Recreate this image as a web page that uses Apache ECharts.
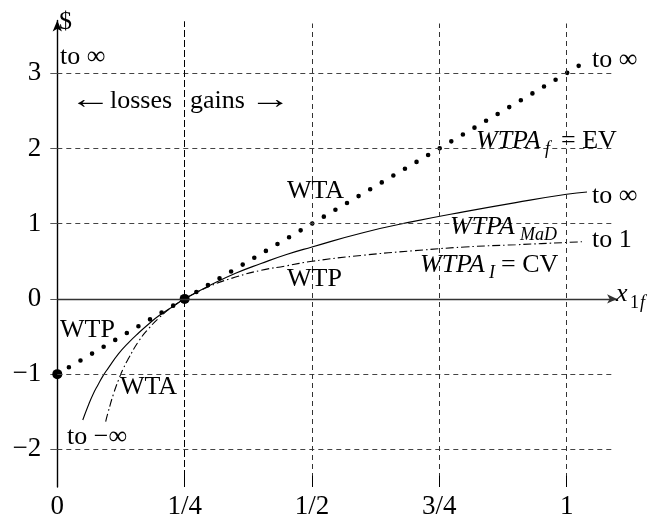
<!DOCTYPE html>
<html><head><meta charset="utf-8">
<script src="https://cdn.jsdelivr.net/npm/echarts@6/dist/echarts.min.js"></script>
<style>html,body{margin:0;padding:0;background:#fff}#c{width:661px;height:520px}</style>
</head><body><div id="c"></div>
<script>
// tick values and labels
const xTicks = [0, 0.25, 0.5, 0.75, 1];
const xTickLabels = ['0', '1/4', '1/2', '3/4', '1'];
const yTicks = [-2, -1, 0, 1, 2, 3];
const yTickLabels = ['\u22122', '\u22121', '0', '1', '2', '3'];
const yGrid = [-2, -1, 1, 2, 3];
const xGrid = [0.5, 0.75, 1];
const xDivider = [0.25];

// WTPA_f = EV (dotted straight line)
const evX = [0, 0.25, 0.5, 0.75, 1, 1.034];
const evY = [-1, 0, 1, 2, 3, 3.14];
// WTPA_MaD (solid)
const madX = [0.05, 0.06, 0.07, 0.08, 0.09, 0.1, 0.12, 0.14, 0.16, 0.18, 0.2, 0.225, 0.25, 0.3, 0.35, 0.4, 0.45, 0.5, 0.6, 0.7, 0.8, 0.9, 1.0, 1.04];
const madY = [-1.61, -1.43, -1.27, -1.14, -1.02, -0.92, -0.73, -0.58, -0.45, -0.33, -0.22, -0.11, 0, 0.18, 0.34, 0.47, 0.59, 0.69, 0.88, 1.03, 1.16, 1.28, 1.39, 1.42];
// WTPA_I = CV (dash-dot)
const cvX = [0.095, 0.1, 0.11, 0.12, 0.13, 0.14, 0.16, 0.18, 0.2, 0.225, 0.25, 0.3, 0.35, 0.4, 0.45, 0.5, 0.6, 0.7, 0.8, 0.9, 1.0, 1.03];
const cvY = [-1.63, -1.5, -1.27, -1.08, -0.92, -0.79, -0.56, -0.39, -0.25, -0.11, 0, 0.17, 0.29, 0.38, 0.44, 0.5, 0.58, 0.64, 0.69, 0.72, 0.75, 0.76];
// highlighted points
const keyX = [0, 0.25];
const keyY = [-1, 0];

const X_MIN = 0, X_MAX = 1.1, Y_MIN = -2.5, Y_MAX = 3.7;
const FONT = '"Liberation Serif", "Times New Roman", serif';
const FS = 26, SFS = 18;

const zip = (a, b) => a.map((v, i) => [v, b[i]]);

const chart = echarts.init(document.getElementById('c'), null, {renderer: 'canvas'});

const gridH = yGrid.map(v => [{coord: [X_MIN, v]}, {coord: [1.095, v]}]);
const gridV = xGrid.map(v => [{coord: [v, Y_MIN]}, {coord: [v, 3.66]}]);
const divV = xDivider.map(v => [{coord: [v, Y_MIN]}, {coord: [v, 3.69]}]);
const bottomTicks = xTicks.slice(1).map(v => [{coord: [v, Y_MIN]}, {coord: [v, Y_MIN + 0.15]}]);

function helper(data, lineStyle, symbol, symbolSize) {
  return {
    type: 'line', data: [], silent: true, z: 1,
    markLine: {
      silent: true, animation: false,
      symbol: symbol || ['none', 'none'], symbolSize: symbolSize || 8,
      label: {show: false}, lineStyle: lineStyle, data: data,
      emphasis: {disabled: true}
    }
  };
}

chart.setOption({
  animation: false,
  backgroundColor: '#fff',
  grid: {left: 57.3, right: 43.4, top: 20.5, bottom: 31.5, containLabel: false},
  xAxis: {
    type: 'value', min: X_MIN, max: X_MAX, interval: 0.25, position: 'bottom',
    axisLine: {show: false},
    axisTick: {show: false},
    splitLine: {show: false},
    axisLabel: {
      customValues: xTicks, margin: 6, color: '#000', fontFamily: FONT, fontSize: 27,
      formatter: v => { const i = xTicks.findIndex(t => Math.abs(t - v) < 1e-6); return i >= 0 ? xTickLabels[i] : ''; }
    }
  },
  yAxis: {
    type: 'value', min: Y_MIN, max: Y_MAX,
    axisLine: {show: true, onZero: false, symbol: ['none', 'arrow'], symbolSize: [7, 11],
      lineStyle: {color: '#000', width: 1.4}},
    axisTick: {show: true, customValues: yTicks, length: 7, lineStyle: {color: '#555', width: 1}},
    splitLine: {show: false},
    axisLabel: {
      customValues: yTicks, margin: 16, color: '#000', fontFamily: FONT, fontSize: 27,
      formatter: v => { const i = yTicks.findIndex(t => Math.abs(t - v) < 1e-6); return i >= 0 ? yTickLabels[i] : ''; }
    }
  },
  series: [
    helper(gridH, {color: '#444', width: 1, type: [5, 4]}),
    helper(gridV, {color: '#333', width: 1, type: [5, 4]}),
    helper(divV, {color: '#000', width: 1, type: [7, 3]}),
    helper(bottomTicks, {color: '#000', width: 1, type: 'solid'}),
    helper([[{coord: [X_MIN, 0]}, {coord: [1.099, 0]}]], {color: '#333', width: 1.3, type: 'solid'}, ['none', 'arrow'], [7, 10]),
    {
      name: 'WTPA_f = EV', type: 'line', data: zip(evX, evY), showSymbol: false, symbol: 'none', z: 3,
      lineStyle: {color: '#000', width: 4.6, type: [0, 13.46], cap: 'round'}
    },
    {
      name: 'WTPA_MaD', type: 'line', data: zip(madX, madY), showSymbol: false, symbol: 'none', smooth: true, z: 3,
      lineStyle: {color: '#000', width: 1.1}
    },
    {
      name: 'WTPA_I = CV', type: 'line', data: zip(cvX, cvY), showSymbol: false, symbol: 'none', smooth: true, z: 3,
      lineStyle: {color: '#000', width: 1.1, type: [8, 3, 1.5, 3]}
    },
    {
      type: 'scatter', data: zip(keyX, keyY), symbol: 'circle', symbolSize: 10, z: 4,
      itemStyle: {color: '#000', opacity: 1}
    }
  ]
});

function t(x, y, text, opt) {
  opt = opt || {};
  return {
    type: 'text', x: x, y: y, z: 10, silent: true, scaleX: opt.scaleX || 1,
    style: {
      text: text, fill: '#000', align: opt.align || 'left', verticalAlign: 'middle',
      font: (opt.italic ? 'italic ' : '') + (opt.size || FS) + 'px ' + FONT
    }
  };
}

chart.setOption({
  graphic: [
    t(59, 22, '$'),
    t(60, 57, 'to \u221e'),
    t(90, 101, '\u2190', {align: 'center', size: 28, scaleX: 1.5}),
    t(110, 101, 'losses'),
    t(190, 101, 'gains'),
    t(270, 101, '\u2192', {align: 'center', size: 28, scaleX: 1.5}),
    t(287, 191, 'WTA'),
    t(476, 141.5, 'WTPA', {italic: true}),
    t(545, 149, 'f', {italic: true, size: SFS}),
    t(561, 141.5, '= EV'),
    t(592, 60, 'to \u221e'),
    t(592, 196, 'to \u221e'),
    t(450, 227.5, 'WTPA', {italic: true}),
    t(520, 235, 'MaD', {italic: true, size: SFS}),
    t(592, 240, 'to 1'),
    t(420, 265.5, 'WTPA', {italic: true}),
    t(489, 273, 'I', {italic: true, size: SFS}),
    t(501, 265.5, '= CV'),
    t(287, 279.5, 'WTP'),
    t(616, 294, 'x', {italic: true}),
    t(630, 303, '1', {size: SFS}),
    t(640, 303, 'f', {italic: true, size: SFS}),
    t(60, 330, 'WTP'),
    t(120, 387, 'WTA'),
    t(67, 437, 'to \u2212\u221e')
  ]
});
</script></body></html>
